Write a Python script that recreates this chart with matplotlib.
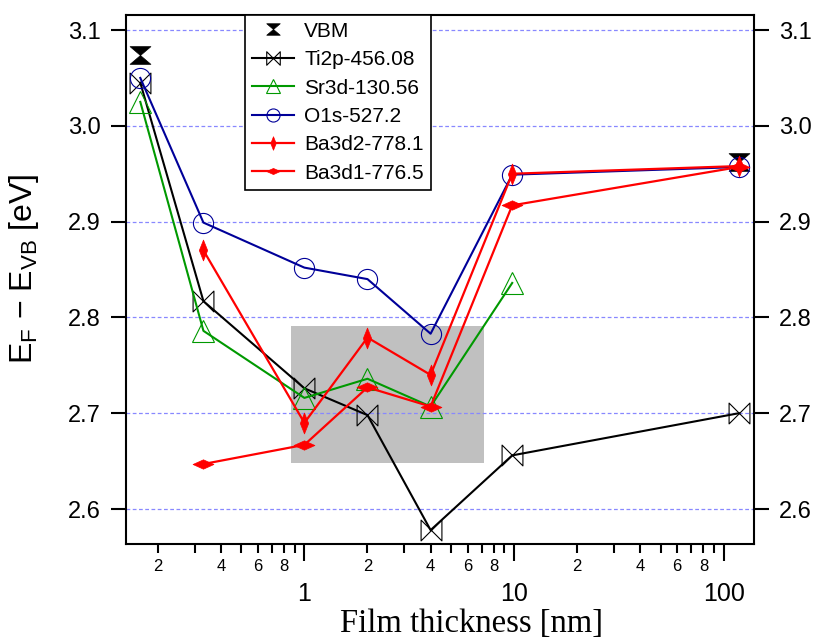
import matplotlib
matplotlib.use("Agg")
import matplotlib.pyplot as plt
import numpy as np
from matplotlib.path import Path
from matplotlib.patches import Rectangle
from matplotlib.ticker import FixedLocator, FuncFormatter

plt.rcParams['font.family'] = ['Liberation Sans', 'DejaVu Sans']
plt.rcParams['mathtext.fontset'] = 'custom'
plt.rcParams['mathtext.rm'] = 'Liberation Sans'
plt.rcParams['mathtext.it'] = 'Liberation Sans'

# ---- data ----
vbm_x = [0.165, 118]
vbm_y = [3.074, 2.962]

ti_x = [0.165, 0.33, 1.0, 2.0, 4.0, 9.8, 118]
ti_y = [3.045, 2.817, 2.726, 2.698, 2.578, 2.656, 2.700]

sr_x = [0.165, 0.33, 1.0, 2.0, 4.0, 9.8]
sr_y = [3.025, 2.786, 2.716, 2.736, 2.707, 2.836]

o_x = [0.165, 0.33, 1.0, 2.0, 4.0, 9.8, 118]
o_y = [3.050, 2.899, 2.852, 2.840, 2.783, 2.949, 2.957]

ba2_x = [0.33, 1.0, 2.0, 4.0, 9.8, 118]
ba2_y = [2.870, 2.690, 2.779, 2.740, 2.950, 2.958]

ba1_x = [0.33, 1.0, 2.0, 4.0, 9.8, 118]
ba1_y = [2.647, 2.667, 2.727, 2.707, 2.917, 2.957]

labels = ['VBM', 'Ti2p-456.08', 'Sr3d-130.56', 'O1s-527.2', 'Ba3d2-778.1', 'Ba3d1-776.5']

box_x = [0.86, 7.2]
box_y = [2.648, 2.791]

major_ticks = [1, 10, 100]
minor_ticks = [0.2, 0.3, 0.4, 0.5, 0.6, 0.7, 0.8, 0.9,
               2, 3, 4, 5, 6, 7, 8, 9, 20, 30, 40, 50, 60, 70, 80, 90]
y_ticks = [2.6, 2.7, 2.8, 2.9, 3.0, 3.1]

# ---- custom markers ----
hourglass = Path([(-1, 0.85), (1, 0.85), (-1, -0.85), (1, -0.85), (-1, 0.85)],
                 [Path.MOVETO, Path.LINETO, Path.LINETO, Path.LINETO, Path.CLOSEPOLY])
bowtie = Path([(-1, 1), (-1, -1), (1, 1), (1, -1), (-1, 1)],
              [Path.MOVETO, Path.LINETO, Path.LINETO, Path.LINETO, Path.CLOSEPOLY])
vdiamond = Path([(0, 1), (0.4, 0), (0, -1), (-0.4, 0), (0, 1)],
                [Path.MOVETO, Path.LINETO, Path.LINETO, Path.LINETO, Path.CLOSEPOLY])
hdiamond = Path([(-1, 0), (0, 0.45), (1, 0), (0, -0.45), (-1, 0)],
                [Path.MOVETO, Path.LINETO, Path.LINETO, Path.LINETO, Path.CLOSEPOLY])

fig = plt.figure(figsize=(8.17, 6.39), dpi=100)
ax = fig.add_axes([126/817, 1-544/639, (753.7-126)/817, (544-15)/639])

ax.set_xscale('log')
ax.set_xlim(0.141, 139)
ax.set_ylim(2.5635, 3.1157)

ax.add_patch(Rectangle((box_x[0], box_y[0]), box_x[1]-box_x[0], box_y[1]-box_y[0],
                       facecolor='#c0c0c0', edgecolor='none', zorder=0.2))

ax.set_axisbelow(True)
ax.yaxis.grid(True, color='#8888ff', linestyle=(0, (3, 2)), linewidth=0.9)

green = '#009900'
blue = '#000099'
red = '#ff0000'

ax.plot(vbm_x, vbm_y, linestyle='none', marker=hourglass, markersize=15,
        color='black', markeredgewidth=0.5, label=labels[0], zorder=3)
ax.plot(ti_x, ti_y, color='black', lw=1.5, marker=bowtie, markersize=15,
        markerfacecolor='none', markeredgecolor='black', markeredgewidth=0.8,
        label=labels[1], zorder=3)
ax.plot(sr_x, sr_y, color=green, lw=1.5, marker='^', markersize=16,
        markerfacecolor='none', markeredgecolor=green, markeredgewidth=0.8,
        label=labels[2], zorder=3)
ax.plot(o_x, o_y, color=blue, lw=1.5, marker='o', markersize=14.5,
        markerfacecolor='none', markeredgecolor=blue, markeredgewidth=0.8,
        label=labels[3], zorder=3)
ax.plot(ba2_x, ba2_y, color=red, lw=1.6, marker=vdiamond, markersize=15,
        markerfacecolor=red, markeredgecolor=red, markeredgewidth=0.5,
        label=labels[4], zorder=3)
ax.plot(ba1_x, ba1_y, color=red, lw=1.6, marker=hdiamond, markersize=15,
        markerfacecolor=red, markeredgecolor=red, markeredgewidth=0.5,
        label=labels[5], zorder=3)

# ---- axes styling ----
for s in ax.spines.values():
    s.set_linewidth(1.5)

ax.xaxis.set_major_locator(FixedLocator(major_ticks))
ax.xaxis.set_minor_locator(FixedLocator(minor_ticks))
ax.xaxis.set_major_formatter(FuncFormatter(lambda v, p: '%g' % v))


def minor_fmt(v, p):
    m = int(round(v / 10 ** np.floor(np.log10(v) + 1e-9)))
    return str(m) if m in (2, 4, 6, 8) else ''


ax.xaxis.set_minor_formatter(FuncFormatter(minor_fmt))
ax.tick_params(axis='x', which='major', direction='out', length=12.5, width=1.5,
               labelsize=18, pad=15, top=False)
ax.tick_params(axis='x', which='minor', direction='out', length=6.5, width=1.5,
               labelsize=12, pad=4.5, top=False)

ax.set_yticks(y_ticks)
ax.yaxis.set_major_formatter(FuncFormatter(lambda v, p: '%.1f' % v))
ax.tick_params(axis='y', which='major', direction='out', length=11, width=1.5,
               labelsize=17, pad=7, left=True, right=True, labelleft=True, labelright=True)
ax.tick_params(axis='y', which='minor', left=False, right=False)

fig.text(24/817, 1-269/639, r'E$_{\rm F}$ − E$_{\rm VB}$ [eV]', rotation=90,
         ha='center', va='center', fontsize=23)
fig.text(471/817, 1-624/639, 'Film thickness [nm]', ha='center', va='center',
         fontsize=23.5, family=['Liberation Serif', 'DejaVu Serif'])

leg = ax.legend(loc='upper left', bbox_to_anchor=(245/817, 1-14.5/639),
                bbox_transform=fig.transFigure, borderaxespad=0, fontsize=15,
                frameon=True, fancybox=False, edgecolor='black', framealpha=1,
                markerscale=0.65, handlelength=2.0, handletextpad=0.5,
                labelspacing=0.45, borderpad=0.35)
leg.get_frame().set_linewidth(1.2)
leg.set_zorder(5)

fig.savefig('out.png', dpi=100)
